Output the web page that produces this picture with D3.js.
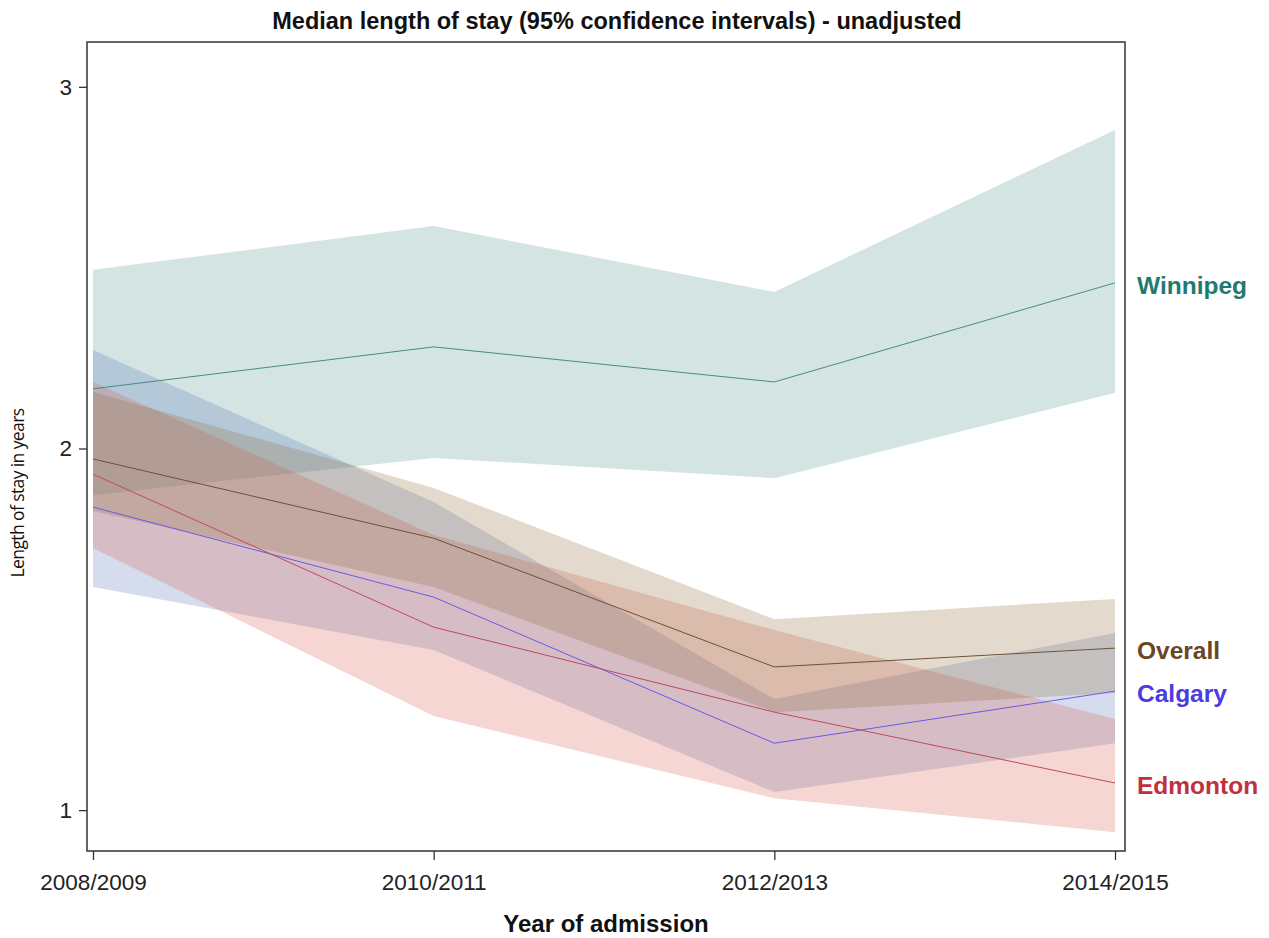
<!DOCTYPE html>
<html>
<head>
<meta charset="utf-8">
<script src="https://cdn.jsdelivr.net/npm/d3@7"></script>
<style>
  body { margin: 0; background: #fff; }
  svg text { font-family: "Liberation Sans", Arial, sans-serif; }
</style>
</head>
<body>
<div id="chart"></div>
<script>
// years on the x axis
const years = ["2008/2009", "2010/2011", "2012/2013", "2014/2015"];

// medians and 95% CI per group (years)
const winnipegMedian = [2.165, 2.281, 2.184, 2.458];
const winnipegLower  = [1.871, 1.974, 1.918, 2.154];
const winnipegUpper  = [2.494, 2.615, 2.433, 2.881];

const calgaryMedian = [1.838, 1.589, 1.185, 1.329];
const calgaryLower  = [1.617, 1.443, 1.050, 1.185];
const calgaryUpper  = [2.272, 1.852, 1.307, 1.490];

const edmontonMedian = [1.929, 1.506, 1.271, 1.075];
const edmontonLower  = [1.725, 1.260, 1.033, 0.939];
const edmontonUpper  = [2.184, 1.761, 1.498, 1.252];

const overallMedian = [1.971, 1.752, 1.396, 1.448];
const overallLower  = [1.827, 1.617, 1.271, 1.324];
const overallUpper  = [2.156, 1.891, 1.528, 1.584];

const yTicks = [1, 2, 3];

const groups = [
  {name: "Winnipeg", median: winnipegMedian, lower: winnipegLower, upper: winnipegUpper,
   band: "#4f938f", line: "#4a8a82", label: "#1f7a72"},
  {name: "Calgary", median: calgaryMedian, lower: calgaryLower, upper: calgaryUpper,
   band: "#5773b7", line: "#6a5ae6", label: "#4a3ce0"},
  {name: "Edmonton", median: edmontonMedian, lower: edmontonLower, upper: edmontonUpper,
   band: "#d75b4f", line: "#c24a58", label: "#c0303e"},
  {name: "Overall", median: overallMedian, lower: overallLower, upper: overallUpper,
   band: "#8f6b37", line: "#6d5236", label: "#6b4524"}
];

const W = 1269, H = 938;
const plot = {left: 87, right: 1125, top: 42, bottom: 851};

const svg = d3.select("#chart").append("svg")
  .attr("width", W)
  .attr("height", H);

const x = d3.scalePoint()
  .domain(years)
  .range([93, 1115]);

const y = d3.scaleLinear()
  .domain([0.887, 3.124])
  .range([plot.bottom, plot.top]);

// CI bands
const area = d3.area()
  .x(d => x(d.year))
  .y0(d => y(d.lo))
  .y1(d => y(d.hi));

const line = d3.line()
  .x(d => x(d.year))
  .y(d => y(d.v));

groups.forEach(g => {
  const rows = years.map((yr, i) => ({year: yr, lo: g.lower[i], hi: g.upper[i], v: g.median[i]}));
  svg.append("path")
    .datum(rows)
    .attr("d", area)
    .attr("fill", g.band)
    .attr("fill-opacity", 0.25);
});

groups.forEach(g => {
  const rows = years.map((yr, i) => ({year: yr, v: g.median[i]}));
  svg.append("path")
    .datum(rows)
    .attr("d", line)
    .attr("fill", "none")
    .attr("stroke", g.line)
    .attr("stroke-width", 1);
});

// frame
svg.append("rect")
  .attr("x", plot.left)
  .attr("y", plot.top)
  .attr("width", plot.right - plot.left)
  .attr("height", plot.bottom - plot.top)
  .attr("fill", "none")
  .attr("stroke", "#333")
  .attr("stroke-width", 1.5);

// axes
const yAxis = svg.append("g")
  .attr("transform", `translate(${plot.left},0)`)
  .call(d3.axisLeft(y).tickValues(yTicks).tickFormat(d3.format("d")).tickSize(8).tickPadding(7));
yAxis.select(".domain").remove();
yAxis.selectAll("line").attr("stroke", "#333").attr("stroke-width", 1.3);
yAxis.selectAll("text").attr("font-size", 22.5).attr("fill", "#222")
  .style("font-family", "'Liberation Sans', Arial, sans-serif");

const xAxis = svg.append("g")
  .attr("transform", `translate(0,${plot.bottom})`)
  .call(d3.axisBottom(x).tickSize(9).tickPadding(14));
xAxis.select(".domain").remove();
xAxis.selectAll("line").attr("stroke", "#333").attr("stroke-width", 1.3);
xAxis.selectAll("text").attr("font-size", 22.5).attr("fill", "#222")
  .style("font-family", "'Liberation Sans', Arial, sans-serif");

// group labels at the right end
groups.forEach(g => {
  svg.append("text")
    .attr("x", plot.right + 12)
    .attr("y", y(g.median[years.length - 1]))
    .attr("dy", "0.45em")
    .attr("font-size", 24.5)
    .attr("font-weight", "bold")
    .attr("fill", g.label)
    .text(g.name);
});

// titles
svg.append("text")
  .attr("x", 617)
  .attr("y", 29)
  .attr("text-anchor", "middle")
  .attr("font-size", 23.5)
  .attr("font-weight", "bold")
  .attr("fill", "#111")
  .text("Median length of stay (95% confidence intervals) - unadjusted");

svg.append("text")
  .attr("x", 606)
  .attr("y", 932)
  .attr("text-anchor", "middle")
  .attr("font-size", 24)
  .attr("font-weight", "bold")
  .attr("fill", "#111")
  .text("Year of admission");

svg.append("text")
  .attr("transform", "translate(24,493) rotate(-90)")
  .attr("text-anchor", "middle")
  .attr("font-size", 17.5)
  .attr("fill", "#111")
  .style("font-family", "'Open Sans', sans-serif")
  .style("letter-spacing", "-0.6px")
  .text("Length of stay in years");
</script>
</body>
</html>
